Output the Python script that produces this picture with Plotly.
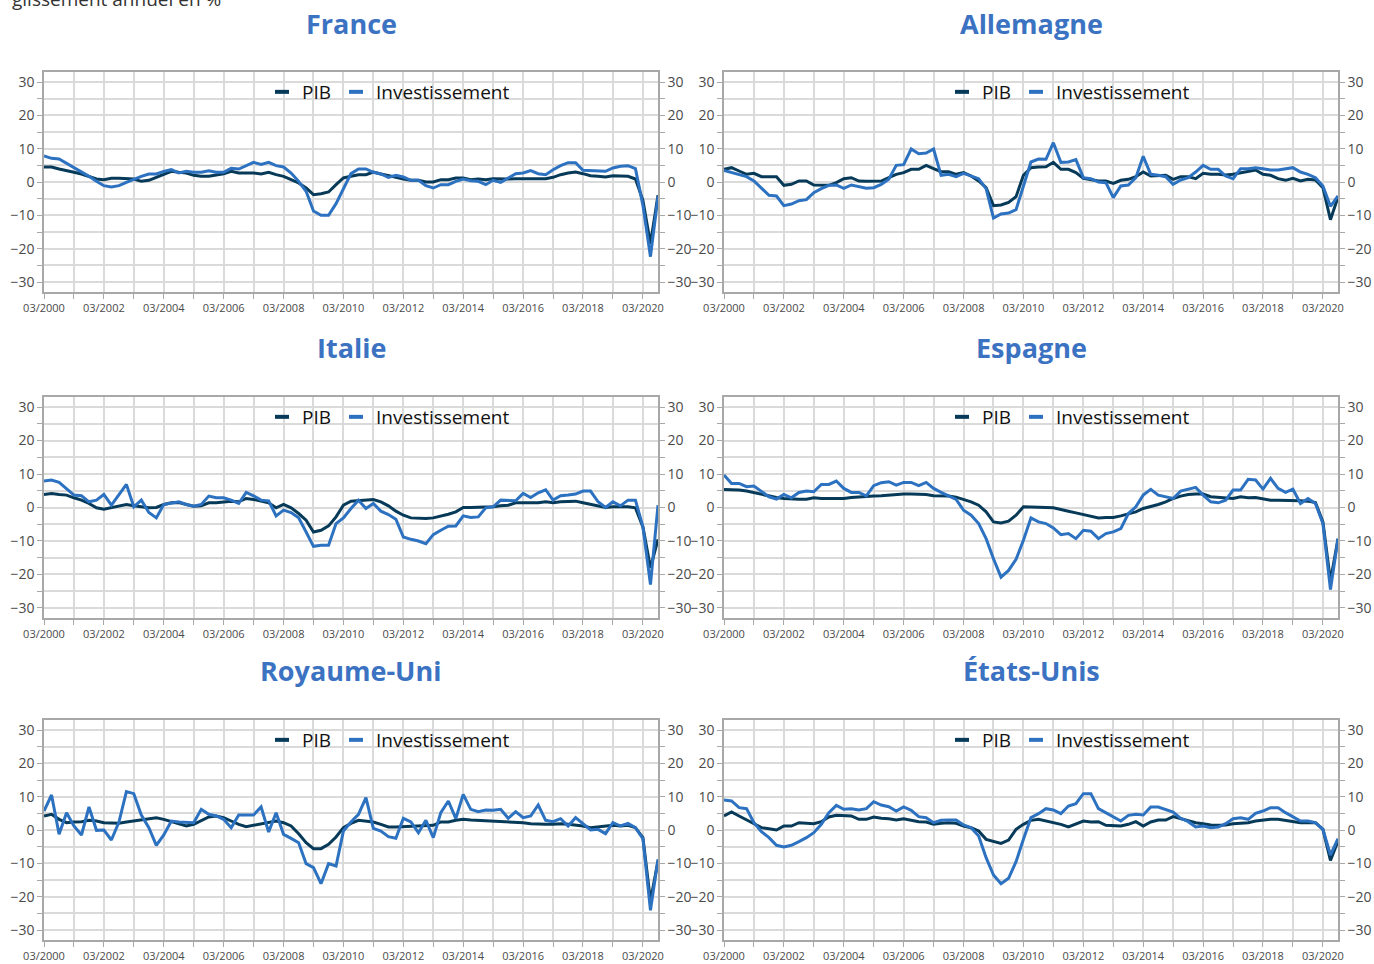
import plotly.graph_objects as go
import pandas as pd

quarters = pd.date_range("2000-03-01", periods=83, freq="3MS")

countries = ["France", "Allemagne", "Italie", "Espagne", "Royaume-Uni", "États-Unis"]
series_names = ["PIB", "Investissement"]
note_text = "glissement annuel en %"

france_pib = [4.5, 4.5, 3.9, 3.3, 2.9, 2.4, 1.7, 0.9, 0.7, 1.1, 1.1, 1.0, 0.9, 0.2, 0.5, 1.4,
              2.2, 3.2, 2.9, 2.7, 2.0, 1.7, 1.7, 2.0, 2.5, 3.2, 2.7, 2.7, 2.7, 2.4, 2.9, 2.2,
              1.7, 0.7, -0.3, -1.8, -3.8, -3.5, -3.0, -0.8, 1.2, 1.7, 2.2, 2.2, 3.0, 2.4, 2.0, 1.4,
              0.9, 0.5, 0.5, 0.0, 0.0, 0.7, 0.7, 1.2, 1.2, 0.7, 0.9, 0.7, 1.0, 0.9, 0.9, 1.0,
              1.0, 1.1, 0.9, 1.0, 1.4, 2.2, 2.7, 3.0, 2.5, 1.9, 1.7, 1.5, 1.9, 1.9, 1.7, 0.9,
              -5.5, -18.5, -4.0]
france_inv = [7.8, 7.1, 6.9, 5.6, 4.5, 3.2, 1.7, 0.2, -1.1, -1.5, -1.1, -0.1, 0.9, 1.7, 2.4, 2.4,
              3.2, 3.7, 2.7, 3.2, 2.9, 2.9, 3.4, 2.9, 2.9, 4.1, 3.9, 4.9, 5.9, 5.3, 5.9, 4.9,
              4.5, 2.7, 0.2, -2.8, -8.7, -10.0, -10.0, -6.5, -2.0, 2.5, 3.9, 3.9, 2.9, 2.4, 1.4, 2.0,
              1.5, 0.5, 0.5, -1.1, -1.8, -0.8, -0.8, 0.2, 0.9, 0.4, 0.2, -0.8, 0.5, -0.1, 1.2, 2.5,
              2.7, 3.4, 2.5, 2.2, 3.7, 4.9, 5.8, 5.8, 3.5, 3.4, 3.2, 3.2, 4.2, 4.7, 4.9, 4.0,
              -7.0, -22.4, -4.3]

allemagne_pib = [3.8, 4.3, 3.3, 2.3, 2.6, 1.6, 1.6, 1.6, -1.0, -0.7, 0.3, 0.3, -0.9, -1.0, -1.0, -0.2,
                 1.0, 1.3, 0.3, 0.2, 0.2, 0.3, 1.3, 2.3, 2.8, 3.8, 3.8, 5.0, 4.0, 3.1, 3.1, 2.3,
                 2.8, 1.8, 0.3, -1.7, -7.1, -6.9, -6.1, -4.4, 2.0, 4.3, 4.5, 4.6, 5.9, 3.8, 3.8, 2.8,
                 1.1, 0.8, 0.3, 0.3, -0.4, 0.5, 0.8, 1.6, 3.0, 1.8, 2.0, 2.0, 0.8, 1.6, 1.6, 1.0,
                 2.6, 2.3, 2.3, 2.1, 2.3, 2.8, 3.3, 3.6, 2.3, 2.0, 1.0, 0.5, 1.1, 0.3, 0.8, 0.6,
                 -1.7, -11.3, -4.5]
allemagne_inv = [3.5, 2.8, 2.1, 1.6, 0.3, -1.7, -4.0, -4.2, -7.1, -6.6, -5.6, -5.3, -3.2, -2.0, -1.0, -0.9,
                 -1.9, -0.9, -1.4, -1.9, -1.7, -0.7, 0.8, 5.0, 5.2, 9.9, 8.5, 8.7, 9.9, 2.0, 2.3, 1.6,
                 2.6, 1.8, 1.0, -2.0, -10.8, -9.6, -9.3, -8.3, -1.0, 6.0, 6.9, 6.8, 11.8, 5.9, 6.0, 6.7,
                 1.3, 1.0, 0.0, -0.2, -4.7, -1.2, -0.9, 1.3, 7.7, 2.3, 2.0, 1.6, -0.7, 0.6, 1.3, 3.0,
                 5.0, 3.8, 3.8, 1.8, 1.0, 4.0, 4.0, 4.3, 4.0, 3.6, 3.6, 4.0, 4.3, 3.0, 2.3, 1.3,
                 -1.2, -7.3, -4.2]

italie_pib = [3.9, 4.2, 3.9, 3.7, 2.9, 2.2, 1.2, -0.1, -0.5, 0.0, 0.4, 0.9, 0.5, 0.2, -0.1, 0.0,
              0.9, 1.4, 1.5, 0.9, 0.4, 0.5, 1.4, 1.4, 1.7, 1.9, 1.7, 2.7, 2.4, 1.9, 1.4, -0.1,
              0.9, -0.1, -1.8, -3.8, -7.3, -6.8, -5.5, -2.8, 0.7, 1.9, 2.0, 2.2, 2.4, 1.7, 0.5, -1.1,
              -2.3, -3.1, -3.3, -3.3, -3.1, -2.6, -2.0, -1.3, 0.0, 0.0, 0.0, 0.2, 0.2, 0.5, 0.7, 1.4,
              1.4, 1.5, 1.4, 1.7, 1.4, 1.7, 1.7, 1.9, 1.4, 1.0, 0.5, 0.0, 0.2, 0.2, 0.2, -0.1,
              -5.8, -18.0, -9.5]
italie_inv = [7.9, 8.2, 7.5, 5.7, 3.7, 3.5, 1.7, 2.2, 3.9, 0.7, 3.7, 6.9, 0.2, 2.2, -1.5, -3.1,
              0.9, 1.2, 1.7, 0.9, 0.4, 0.9, 3.4, 2.9, 2.9, 2.2, 1.2, 4.5, 3.5, 2.2, 2.0, -2.5,
              -0.8, -1.5, -3.1, -7.3, -11.6, -11.3, -11.3, -4.8, -3.1, -0.3, 2.2, -0.3, 1.2, -1.1, -2.1, -3.5,
              -8.8, -9.5, -10.0, -10.8, -8.1, -6.8, -5.6, -5.5, -2.5, -3.0, -2.8, -0.1, 0.2, 2.2, 2.2, 2.0,
              4.2, 3.0, 4.4, 5.3, 2.2, 3.5, 3.7, 4.0, 4.9, 4.9, 1.7, 0.0, 1.7, 0.5, 2.2, 2.2,
              -5.8, -23.0, 0.7]

espagne_pib = [5.4, 5.4, 5.2, 4.9, 4.4, 3.9, 3.4, 3.0, 2.7, 2.5, 2.5, 2.5, 2.9, 2.7, 2.7, 2.9,
               2.7, 3.0, 3.2, 3.2, 3.4, 3.5, 3.7, 3.9, 4.0, 4.0, 4.0, 3.9, 3.5, 3.5, 3.4, 3.1,
               2.4, 1.7, 0.7, -1.3, -4.3, -4.6, -4.1, -2.3, 0.2, 0.2, 0.0, 0.0, -0.1, -0.5, -1.1, -1.6,
               -2.1, -2.6, -3.1, -3.0, -3.0, -2.5, -1.8, -1.3, -0.3, 0.2, 0.9, 1.7, 2.7, 3.4, 3.9, 4.0,
               4.0, 3.2, 3.0, 2.7, 2.7, 3.2, 2.9, 3.0, 2.7, 2.2, 2.2, 2.2, 2.0, 2.0, 1.9, 1.5,
               -4.3, -22.0, -9.3]
espagne_inv = [9.7, 7.2, 7.2, 6.2, 6.4, 4.9, 3.2, 2.5, 3.9, 2.9, 4.5, 4.9, 4.7, 6.9, 6.9, 7.9,
               5.7, 4.5, 4.5, 3.5, 6.5, 7.4, 7.7, 6.7, 7.5, 7.5, 6.5, 7.5, 5.7, 4.5, 3.4, 2.4,
               -0.8, -2.3, -4.8, -9.3, -15.3, -20.8, -18.8, -15.5, -9.8, -3.1, -4.3, -4.8, -6.1, -8.1, -7.8, -9.3,
               -6.8, -7.1, -9.3, -7.8, -7.3, -6.3, -1.8, 0.2, 3.7, 5.4, 3.7, 3.2, 2.7, 4.9, 5.5, 6.0,
               3.7, 1.7, 1.4, 2.2, 5.2, 5.2, 8.4, 8.2, 5.5, 8.7, 5.7, 4.5, 5.5, 1.2, 2.7, 1.2,
               -4.8, -24.5, -9.3]

ru_pib = [4.2, 4.7, 3.2, 2.2, 2.4, 2.5, 2.9, 2.7, 2.2, 2.0, 2.0, 2.4, 2.7, 3.0, 3.4, 3.7,
          3.2, 2.5, 1.7, 1.2, 1.7, 2.7, 3.9, 4.2, 3.7, 2.7, 1.7, 1.0, 1.4, 1.7, 2.2, 2.7,
          2.2, 1.2, -1.1, -3.8, -5.6, -5.6, -4.3, -2.1, 0.7, 2.0, 2.9, 2.7, 2.4, 1.7, 0.9, 0.9,
          1.0, 1.2, 1.4, 1.4, 1.4, 2.4, 2.4, 2.9, 3.2, 3.0, 2.9, 2.7, 2.7, 2.5, 2.4, 2.5,
          2.2, 1.9, 1.7, 1.7, 1.7, 1.9, 1.7, 1.5, 1.2, 0.7, 0.9, 1.2, 1.4, 1.2, 1.4, 0.7,
          -2.3, -21.3, -9.3]
ru_inv = [5.7, 10.5, -1.3, 5.2, 1.2, -1.5, 6.9, -0.1, 0.0, -3.0, 2.4, 11.5, 10.9, 4.5, 0.7, -4.6,
          -1.5, 2.7, 2.4, 2.2, 2.2, 6.2, 4.7, 4.2, 3.2, 0.7, 4.5, 4.5, 4.5, 6.9, -0.6, 5.2,
          -1.3, -2.5, -3.8, -10.1, -11.3, -16.1, -10.1, -10.8, -0.3, 2.4, 4.7, 9.7, 0.5, -0.3, -2.0, -2.5,
          3.5, 2.4, -0.8, 2.9, -2.3, 5.2, 8.7, 3.4, 10.7, 6.2, 5.5, 6.0, 5.9, 6.2, 3.5, 5.5,
          3.7, 4.2, 7.5, 2.9, 2.5, 3.4, 1.2, 3.7, 1.9, 0.0, 0.2, -1.1, 2.2, 1.2, 2.0, 0.7,
          -2.6, -24.1, -8.8]

us_pib = [4.2, 5.4, 4.2, 3.0, 1.9, 0.7, 0.4, 0.0, 1.2, 1.2, 2.2, 2.0, 1.9, 2.5, 3.9, 4.4,
          4.4, 4.2, 3.2, 3.2, 3.9, 3.5, 3.4, 3.0, 3.4, 3.0, 2.5, 2.4, 1.7, 2.0, 2.2, 2.0,
          1.2, 0.7, -0.3, -2.8, -3.3, -4.0, -3.0, 0.2, 1.7, 2.9, 3.2, 2.7, 2.0, 1.7, 0.9, 1.7,
          2.7, 2.4, 2.5, 1.4, 1.4, 1.2, 1.7, 2.5, 1.2, 2.4, 3.0, 3.0, 4.0, 3.4, 2.7, 2.2,
          1.9, 1.5, 1.4, 1.5, 1.9, 2.0, 2.2, 2.7, 3.0, 3.2, 3.2, 2.9, 2.5, 2.2, 2.2, 2.2,
          0.2, -9.1, -3.3]
us_inv = [9.0, 8.7, 6.7, 6.4, 2.2, -0.5, -2.3, -4.6, -5.1, -4.6, -3.5, -2.3, -0.8, 1.7, 5.2, 7.4,
          6.2, 6.4, 6.0, 6.4, 8.5, 7.5, 7.0, 5.7, 6.9, 5.9, 4.0, 3.7, 2.2, 2.9, 3.0, 3.0,
          1.5, 0.7, -1.8, -8.3, -13.5, -16.1, -14.5, -9.5, -2.8, 3.7, 4.9, 6.4, 6.0, 4.9, 7.2, 7.9,
          10.9, 10.9, 6.4, 5.2, 4.0, 2.7, 4.4, 4.7, 4.5, 6.9, 6.9, 6.2, 5.4, 3.5, 2.5, 0.9,
          1.2, 0.7, 0.9, 1.9, 3.4, 3.7, 3.2, 5.0, 5.7, 6.7, 6.7, 5.2, 3.9, 2.7, 2.7, 2.2,
          0.2, -7.5, -2.6]

pib_series = [france_pib, allemagne_pib, italie_pib, espagne_pib, ru_pib, us_pib]
inv_series = [france_inv, allemagne_inv, italie_inv, espagne_inv, ru_inv, us_inv]

COL_PIB = "#063a58"
COL_INV = "#2c72c1"
COL_TITLE = "#3c72c2"
GRID = "#dadada"
AXLINE = "#a8a8a8"
TICKFONT = "#4a4a4a"

W, H = 1374, 964
ML, MR, MT, MB = 44, 36, 72, 24
PW = W - ML - MR
PH = H - MT - MB


def fx(px):
    return (px - ML) / PW


def fy(py):
    return (H - MB - py) / PH


col_px = [(44, 658), (724, 1338)]
row_px = [(72, 292), (397, 618), (720, 940)]

fig = go.Figure()
layout = dict(
    template="none",
    width=W, height=H,
    margin=dict(l=ML, r=MR, t=MT, b=MB, autoexpand=False),
    paper_bgcolor="white", plot_bgcolor="white",
    font=dict(family="Open Sans", color="#333"),
    annotations=[],
)

for k, country in enumerate(countries):
    r, c = divmod(k, 2)
    n = k + 1
    nr = k + 7
    xid, yid, yrid = f"x{n}", f"y{n}", f"y{nr}"
    xdom = [fx(col_px[c][0]), fx(col_px[c][1])]
    ydom = [max(0.0, fy(row_px[r][1])), min(1.0, fy(row_px[r][0]))]
    legname = "legend" if n == 1 else f"legend{n}"

    fig.add_trace(go.Scatter(x=quarters, y=pib_series[k], mode="lines", name=series_names[0],
                             line=dict(color=COL_PIB, width=3), xaxis=xid, yaxis=yid,
                             showlegend=False))
    fig.add_trace(go.Scatter(x=quarters, y=inv_series[k], mode="lines", name=series_names[1],
                             line=dict(color=COL_INV, width=3), xaxis=xid, yaxis=yid,
                             showlegend=False))
    for nm, col in zip(series_names, [COL_PIB, COL_INV]):
        fig.add_trace(go.Scatter(x=[None], y=[None], mode="markers", name=nm,
                                 marker=dict(symbol="line-ew", size=10,
                                             line=dict(color=col, width=4)),
                                 xaxis=xid, yaxis=yrid, legend=legname, showlegend=True))

    xkey = "xaxis" if n == 1 else f"xaxis{n}"
    ykey = "yaxis" if n == 1 else f"yaxis{n}"
    layout[xkey] = dict(
        domain=xdom, anchor=yid, type="date", automargin=False,
        range=[quarters[0], quarters[-1]],
        tick0="2000-03-01", dtick="M24", tickformat="%m/%Y",
        ticks="outside", ticklen=5, tickcolor=AXLINE, tickwidth=1,
        showgrid=True, gridcolor=GRID, gridwidth=1.5,
        minor=dict(dtick="M12", tick0="2000-03-01", showgrid=True, gridcolor=GRID, gridwidth=1.5,
                   ticks="outside", ticklen=5, tickcolor=AXLINE),
        showline=True, linecolor=AXLINE, linewidth=1.5, mirror=True,
        tickfont=dict(size=11, color=TICKFONT), zeroline=False, fixedrange=True,
    )
    common_y = dict(
        range=[-33, 33], tick0=0, dtick=10, automargin=False,
        ticks="outside", ticklen=5, tickcolor=AXLINE,
        showline=True, linecolor=AXLINE, linewidth=1.5,
        tickfont=dict(size=14, color=TICKFONT), zeroline=False, fixedrange=True,
    )
    layout[ykey] = dict(domain=ydom, anchor=xid, side="left",
                        showgrid=True, gridcolor=GRID, gridwidth=1.5,
                        minor=dict(dtick=5, showgrid=True, gridcolor=GRID, gridwidth=1.5,
                                   ticks="outside", ticklen=5, tickcolor=AXLINE),
                        **common_y)
    layout[f"yaxis{nr}"] = dict(overlaying=yid, anchor=xid, side="right", showgrid=False,
                                minor=dict(dtick=5, showgrid=False, ticks="outside", ticklen=5,
                                           tickcolor=AXLINE),
                                **common_y)

    layout[legname] = dict(
        orientation="h", xanchor="left", yanchor="middle",
        x=fx(col_px[c][0] + 218), y=fy(row_px[r][0] + 20),
        font=dict(size=19, color="#111"), bgcolor="rgba(0,0,0,0)",
        itemclick=False, itemdoubleclick=False,
    )

    layout["annotations"].append(dict(
        text=country, xref="paper", yref="paper",
        x=fx((col_px[c][0] + col_px[c][1]) / 2), y=fy(row_px[r][0] - 49),
        xanchor="center", yanchor="middle", showarrow=False,
        font=dict(size=27, color=COL_TITLE, family="Open Sans", weight="bold"),
    ))

layout["annotations"].append(dict(
    text=note_text, xref="paper", yref="paper", x=fx(10), y=fy(-1),
    xanchor="left", yanchor="middle", showarrow=False,
    font=dict(size=19, color="#333", family="Open Sans"),
))

fig.update_layout(**layout)
fig.write_html("out.html")
